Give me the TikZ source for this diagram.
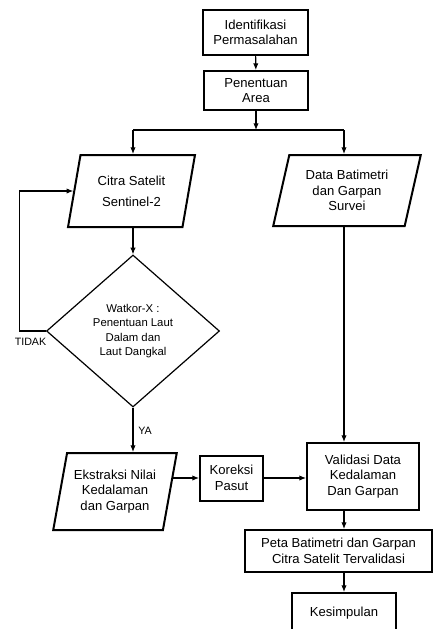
\documentclass[tikz,border=0pt]{standalone}
\usepackage{fontspec}
\setmainfont{Liberation Sans}
\usetikzlibrary{shapes.geometric,arrows.meta,calc}

\begin{document}
\begin{tikzpicture}[x=0.75pt,y=0.75pt,yscale=-1,xscale=1,
  boxthick/.style={draw,line width=1.5pt,rectangle,align=center,inner sep=2pt,font=\fontsize{9.8}{11.6}\selectfont},
  datain/.style={draw,line width=1.5pt,trapezium,trapezium stretches=true,align=center,inner sep=2pt,font=\fontsize{9.8}{11.6}\selectfont},
  decide/.style={draw,line width=0.9pt,diamond,align=center,inner sep=1pt,font=\fontsize{8.5}{10.7}\selectfont},
  flow/.style={line width=0.8pt,-{Latex[length=5pt,width=4pt]}},
  lbl/.style={inner sep=0.75pt,font=\fontsize{8}{9.6}\selectfont}]
\useasboundingbox (0,0) rectangle (434,629);

%Shape: Rectangle
\node[boxthick,minimum width=78.75pt,minimum height=33.75pt] (iden) at (255.5,32.5) {Identifikasi\\Permasalahan};
%Shape: Rectangle
\node[boxthick,minimum width=78pt,minimum height=29.25pt] (area) at (256,90.5) {Penentuan\\Area};
\coordinate (jL) at (133,130);
\coordinate (jR) at (344,130);
%Shape: Parallelogram
\node[datain,trapezium left angle=76,trapezium right angle=104,minimum width=95.25pt,minimum height=54pt] (citra) at (131.5,191) {Citra Satelit\\[4pt]Sentinel-2};
%Shape: Parallelogram
\node[datain,trapezium left angle=75,trapezium right angle=105,minimum width=111pt,minimum height=53.25pt] (data) at (347,190.5) {Data Batimetri\\dan Garpan\\Survei};
%Shape: Diamond
\node[decide,minimum width=129.75pt,minimum height=114pt] (watkor) at (133,331) {Watkor-X :\\Penentuan Laut\\Dalam dan\\Laut Dangkal};
%Shape: Parallelogram
\node[datain,trapezium left angle=75.4,trapezium right angle=104.6,minimum width=93pt,minimum height=57.75pt] (ekstr) at (115,491.5) {Ekstraksi Nilai\\Kedalaman\\dan Garpan};
%Shape: Rectangle
\node[boxthick,minimum width=47.25pt,minimum height=33.75pt] (koreksi) at (231.5,478) {Koreksi\\Pasut};
%Shape: Rectangle
\node[boxthick,minimum width=84pt,minimum height=50.25pt] (valid) at (363,476.5) {Validasi Data\\Kedalaman\\Dan Garpan};
%Shape: Rectangle
\node[boxthick,minimum width=140.25pt,minimum height=31.5pt] (peta) at (338.5,551) {Peta Batimetri dan Garpan\\Citra Satelit Tervalidasi};
%Shape: Rectangle
\node[boxthick,minimum width=78pt,minimum height=30pt] (kes) at (344,613) {Kesimpulan};

%Straight Lines
\draw[flow] (iden) -- (area);
\draw[flow] (area.south) -- (area.south |- jL);
\draw[line width=0.8pt] (jL) -- (jR);
\draw[flow] (jL) -- (jL |- citra.north);
\draw[flow] (jR) -- (jR |- data.north);
\draw[flow] (jL |- citra.south) -- (jL |- watkor.north);
\draw[flow] (watkor.west) -- ++(-26,0) |- (citra.west);
\draw[flow] (watkor.south) -- (watkor.south |- ekstr.north);
\coordinate (ekR) at ($(ekstr.top right corner)!0.32!(ekstr.bottom right corner)$);
\draw[flow] (koreksi.west -| ekR) -- (koreksi.west);
\draw[flow] (koreksi.east) -- (koreksi.east -| valid.west);
\draw[flow] (jR |- data.south) -- (jR |- valid.north);
\draw[flow] (jR |- valid.south) -- (jR |- peta.north);
\draw[flow] (jR |- peta.south) -- (jR |- kes.north);

% Text Node
\node[lbl] (tidak) at (30.5,341.5) {TIDAK};
% Text Node
\node[lbl,anchor=west] (ya) at (137,431) {YA};

\end{tikzpicture}
\end{document}
